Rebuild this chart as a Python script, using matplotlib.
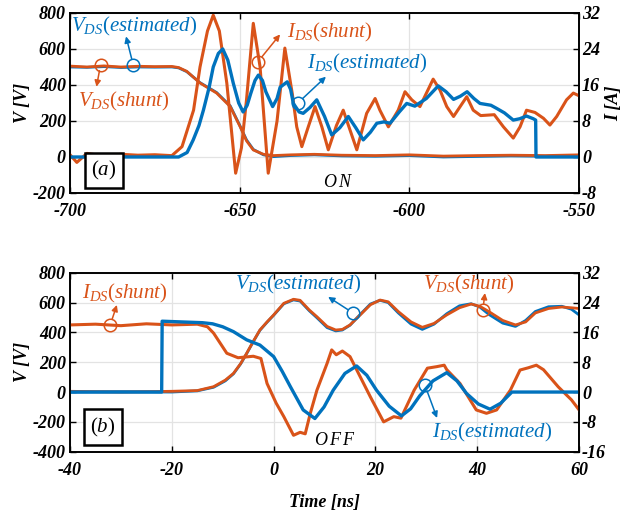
import matplotlib
matplotlib.use("Agg")
import matplotlib.pyplot as plt
from matplotlib.font_manager import FontProperties

plt.rcParams['font.family'] = ['Liberation Serif', 'DejaVu Serif']
plt.rcParams['mathtext.fontset'] = 'custom'
plt.rcParams['mathtext.it'] = 'Liberation Serif:italic'
plt.rcParams['mathtext.rm'] = 'Liberation Serif'
plt.rcParams['mathtext.bf'] = 'Liberation Serif:bold'

BLUE = '#0072BD'
ORANGE = '#D95319'

# ---------------- (a) turn-ON data ----------------
on_vsh_t = [-700, -695, -690, -685, -680, -675, -670, -668, -665.6, -661.7, -656.8, -652.8,
            -649.9, -648, -646, -643, -640, -635, -628, -620, -610, -600, -590, -580,
            -570, -560, -550]
on_vsh_v = [505, 500, 506, 500, 504, 502, 503, 497, 476, 411, 355, 280,
            169, 90, 39, 15, 8, 12, 15, 10, 8, 12, 5, 8, 10, 8, 12]

on_vest_t = [-700, -695, -690, -685, -680, -675, -670, -668, -665.6, -661.7, -656.8, -652.8,
             -649.9, -648, -646, -643, -640, -635, -628, -620, -610, -600, -590, -580,
             -570, -560, -550]
on_vest_v = [500, 498, 502, 497, 500, 499, 500, 495, 474, 413, 358, 284,
             172, 95, 42, 12, 2, 8, 12, 6, 4, 8, 0, 3, 6, 4, 8]

on_ish_t = [-700, -698, -695, -690, -685, -680, -675, -670, -667, -663.6, -661.7, -659.5,
            -657.8, -656, -653.8, -651.2, -649.5, -648, -646, -644, -641.6, -639, -636.7,
            -634.5, -633.2, -631.7, -629.8, -627.8, -625.8, -623.9, -621.5, -619.5, -617.5,
            -615.5, -612.6, -610.1, -608.7, -606.2, -603.3, -601.3, -599.3, -596.9, -593,
            -591, -589, -587, -583.1, -581.2, -579, -575, -572.3, -569.4, -567.4, -565.5,
            -563, -560.5, -558.6, -556.6, -553.7, -551.7, -550]
on_ish_a = [0.5, -1.2, 0.8, 0.2, 0.6, 0.4, 0.5, 0.3, 2.3, 10.4, 20, 28,
            31.5, 28, 16.4, -3.6, 2, 12.7, 29.7, 20, -3.6, 8, 24.2,
            14, 6.7, 2.3, 6.7, 11.2, 6.7, 1.6, 7, 10.4, 6,
            1.6, 9.7, 13, 10.4, 6.7, 10.4, 14.5, 12.7, 11.2, 17.3,
            14.9, 11.2, 9, 13.4, 10.4, 9.2, 9.4, 6.7, 4.2, 6.7, 10.4,
            9.9, 8.6, 7.1, 9, 12.7, 14.2, 13.6]

on_iest_t = [-700, -668, -665.5, -663.7, -662, -660.7, -659, -657.8, -656.3, -655, -653.5,
             -651.9, -650.3, -649, -647.8, -646.8, -645.5, -644.5, -643.3, -642.3, -640.3,
             -639, -638.1, -636, -635, -634.2, -632.5, -631.3, -629.3, -627.3, -625, -622.9,
             -620.5, -618, -615.8, -613.6, -611.5, -609.6, -607.5, -605.7, -603, -600.8,
             -598.4, -595, -591.5, -589.2, -587, -585, -583, -581, -579.2, -576, -574.3,
             -572, -569.4, -567.5, -565.5, -563.5, -562.8, -562.7, -550]
on_iest_a = [0, 0, 1, 3.8, 7, 10.4, 15.5, 20, 23, 24, 21.5,
             16.4, 12, 10, 11.5, 14, 17, 18.2, 17, 14.5, 11.2,
             13, 15.5, 16.7, 15, 11.9, 10, 9.7, 11, 12.7, 9, 4.9,
             6.5, 9, 6.5, 3.8, 5.5, 7.5, 7.8, 7.5, 10, 11.9,
             11.3, 13, 15.8, 14.5, 12.8, 13.5, 14.5, 13, 11.9, 11.5, 10.8,
             9.8, 8.2, 8.5, 9.1, 8.5, 8.2, 0, 0]

# ---------------- (b) turn-OFF data ----------------
off_vsh_t = [-40, -30, -20, -15, -11.8, -9.5, -7.9, -6.5, -5.3, -4, -2.7, -1.3, 0, 2, 3.9,
             5.2, 7, 8.5, 10.5, 12.2, 13.5, 15, 17, 19, 20.9, 22.5, 24.5, 27, 29.2, 31.5,
             34, 36.5, 38.8, 40.5, 42.3, 45, 47.5, 49.5, 51.4, 54, 56.6, 58.5, 60]
off_vsh_v = [5, 0, 5, 10, 36, 80, 125, 190, 260, 340, 416, 470, 517, 595, 622,
             615, 550, 505, 440, 416, 420, 450, 517, 585, 617, 605, 539, 470, 434, 460,
             517, 565, 590, 575, 539, 480, 450, 470, 530, 560, 570, 565, 560]

off_vest_t = [-40, -30, -20, -15, -11.8, -9.5, -7.9, -6.5, -5.3, -4, -2.7, -1.3, 0, 2, 3.9,
              5.2, 7, 8.5, 10.5, 12.2, 13.5, 15, 17, 19, 20.9, 22.5, 24.5, 27, 29.2, 31.5,
              34, 36.5, 38.8, 40.5, 42.3, 45, 47.5, 49.5, 51.4, 54, 56.6, 58.5, 60]
off_vest_v = [0, 2, 0, 8, 32, 75, 122, 188, 258, 338, 414, 468, 515, 592, 618,
              610, 545, 498, 432, 410, 416, 448, 520, 590, 615, 600, 530, 455, 420, 455,
              525, 578, 592, 570, 520, 462, 440, 480, 540, 572, 575, 555, 517]

off_ish_t = [-40, -35, -30, -25, -20, -15, -13, -11.8, -9.2, -7, -4, -2.5, -1.3, 0.5, 2,
             3.9, 5.2, 6.2, 7.2, 8.5, 10.5, 11.4, 12.3, 13.5, 15, 17, 19, 21.6, 23.6, 25,
             27.6, 30.2, 32, 33.5, 34, 36.6, 39.8, 41.8, 43.8, 46.5, 48.4, 50, 51.6, 53,
             55.9, 58.5, 60]
off_ish_a = [18, 18.2, 17.8, 18.3, 18, 18.2, 17.5, 15.8, 10.4, 9.2, 9.6, 9.0, 2.3, -3, -6.6,
             -11.6, -10.8, -11.2, -5.7, 0.5, 7.7, 11.3, 10, 11, 9.5, 4.1, -1.3, -8, -6.6, -7,
             0.5, 6.4, 6.8, 7.2, 6.0, 2.3, -4.8, -5.7, -4.8, 0.5, 5.9, 6.5, 7.2, 6.0,
             1.4, -2.1, -4.8]

off_iest_t = [-40, -22, -21.9, -18, -14, -12, -10, -7.9, -5.3, -2.7, 0, 1.7, 3.3, 5.8, 8.1,
              9.9, 11.7, 14, 16.3, 18.3, 20.2, 22.7, 25.1, 26.9, 28.7, 31.3, 34, 36, 37.9,
              40.2, 42.5, 44.6, 46.8, 60]
off_iest_a = [0, 0, 19, 18.8, 18.6, 18.3, 17.5, 16.2, 14, 12.6, 9.5, 5.5, 1.4, -4.8, -7.1,
              -4, 0.5, 5, 7, 4.5, 0.5, -3.8, -6.4, -4.5, -1, 3, 5.2, 3, -0.4,
              -3.2, -4.6, -3, 0, 0]

fig = plt.figure(figsize=(6.32, 5.17), dpi=100)

TICKFP = FontProperties(family='Liberation Serif', style='italic', weight='bold', size=13)
LABFP = FontProperties(family='Liberation Serif', style='italic', weight='bold', size=13)
ANN = 15


def style_axes(ax, ax2, xlim, ylim, ylim2, xticks, yticks, yticks2):
    ax.set_xlim(*xlim)
    ax.set_ylim(*ylim)
    ax2.set_ylim(*ylim2)
    ax.set_xticks(xticks, [str(v) for v in xticks], fontproperties=TICKFP)
    ax.set_yticks(yticks, [str(v) for v in yticks], fontproperties=TICKFP)
    ax2.set_yticks(yticks2, [str(v) for v in yticks2], fontproperties=TICKFP)
    ax.grid(True, color='#e3e3e3', lw=0.9)
    ax.set_axisbelow(True)
    ax.tick_params(direction='in', top=True, right=False, length=4, width=1.0, pad=3)
    ax.tick_params(axis='x', pad=7.5)
    ax2.tick_params(direction='in', length=4, width=1.0, pad=2)
    for a in (ax, ax2):
        for s in a.spines.values():
            s.set_linewidth(1.2)


def circ_arrow(ax, tr, cx, cy, tx, ty, color):
    ax.plot([cx], [cy], marker='o', ms=9, mfc='none', mec=color, mew=1.1,
            transform=tr, zorder=6, clip_on=False)
    ax.annotate('', xy=(tx, ty), xytext=(cx, cy), xycoords=tr, textcoords=tr,
                arrowprops=dict(arrowstyle='-|>', color=color, lw=1.1,
                                mutation_scale=9, shrinkA=4.5, shrinkB=0), zorder=6)


# ---------------- top panel ----------------
ax = fig.add_axes([0.1108, 0.6267, 0.8055, 0.3482])
ax2 = ax.twinx()
ax.plot(on_vest_t, on_vest_v, color=BLUE, lw=2.0)
ax.plot(on_vsh_t, on_vsh_v, color=ORANGE, lw=2.0)
ax2.plot(on_ish_t, on_ish_a, color=ORANGE, lw=2.2)
ax2.plot(on_iest_t, on_iest_a, color=BLUE, lw=2.4)
style_axes(ax, ax2, (-700, -550), (-200, 800), (-8, 32),
           [-700, -650, -600, -550], [-200, 0, 200, 400, 600, 800],
           [-8, 0, 8, 16, 24, 32])
ax.set_ylabel('V [V]', fontproperties=LABFP, labelpad=1)
ax2.set_ylabel('I [A]', fontproperties=LABFP, rotation=90, labelpad=4)
tr = ax.transData
ax2.text(-699.8, 725, r'$V_{DS}(estimated)$', color=BLUE, fontsize=ANN, transform=tr,
         ha='left', va='center', zorder=7)
ax2.text(-697.6, 307, r'$V_{DS}(shunt)$', color=ORANGE, fontsize=ANN, transform=tr,
         ha='left', va='center', zorder=7)
ax2.text(-636.0, 692, r'$I_{DS}(shunt)$', color=ORANGE, fontsize=ANN, transform=tr,
         ha='left', va='center', zorder=7)
ax2.text(-630.2, 519, r'$I_{DS}(estimated)$', color=BLUE, fontsize=ANN, transform=tr,
         ha='left', va='center', zorder=7)
circ_arrow(ax2, tr, -681.4, 513, -683.5, 670, BLUE)
circ_arrow(ax2, tr, -691.0, 513, -692.2, 390, ORANGE)
circ_arrow(ax2, tr, -644.6, 530, -638.1, 681, ORANGE)
circ_arrow(ax2, tr, -632.8, 301, -624.6, 446, BLUE)
ax2.text(-690, -75, r'$(a)$', fontsize=15, transform=tr, ha='center', va='center', zorder=7,
         bbox=dict(boxstyle='square,pad=0.3', fc='white', ec='black', lw=1.8))
ax2.text(-621, -140, r'$O\,N$', fontsize=13, transform=tr, ha='center', va='center', zorder=7)

# ---------------- bottom panel ----------------
bx = fig.add_axes([0.1108, 0.1263, 0.8055, 0.3462])
bx2 = bx.twinx()
bx.plot(off_vest_t, off_vest_v, color=BLUE, lw=2.0)
bx.plot(off_vsh_t, off_vsh_v, color=ORANGE, lw=2.0)
bx2.plot(off_ish_t, off_ish_a, color=ORANGE, lw=2.2)
bx2.plot(off_iest_t, off_iest_a, color=BLUE, lw=2.4)
style_axes(bx, bx2, (-40, 60), (-400, 800), (-16, 32),
           [-40, -20, 0, 20, 40, 60], [-400, -200, 0, 200, 400, 600, 800],
           [-16, -8, 0, 8, 16, 24, 32])
bx.set_ylabel('V [V]', fontproperties=LABFP, labelpad=1)
bx.set_xlabel('Time [ns]', fontproperties=LABFP, labelpad=11)
tr = bx.transData
bx2.text(-37.6, 664, r'$I_{DS}(shunt)$', color=ORANGE, fontsize=ANN, transform=tr,
         ha='left', va='center', zorder=7)
bx2.text(-7.6, 718, r'$V_{DS}(estimated)$', color=BLUE, fontsize=ANN, transform=tr,
         ha='left', va='center', zorder=7)
bx2.text(29.4, 718, r'$V_{DS}(shunt)$', color=ORANGE, fontsize=ANN, transform=tr,
         ha='left', va='center', zorder=7)
bx2.text(31.1, -268, r'$I_{DS}(estimated)$', color=BLUE, fontsize=ANN, transform=tr,
         ha='left', va='center', zorder=7)
circ_arrow(bx2, tr, -32.1, 450, -30.8, 584, ORANGE)
circ_arrow(bx2, tr, 15.6, 530, 10.7, 638, BLUE)
circ_arrow(bx2, tr, 41.1, 550, 41.5, 664, ORANGE)
circ_arrow(bx2, tr, 29.7, 47, 32.1, -174, BLUE)
bx2.text(-33.5, -235, r'$(b)$', fontsize=15, transform=tr, ha='center', va='center', zorder=7,
         bbox=dict(boxstyle='square,pad=0.3', fc='white', ec='black', lw=1.8))
bx2.text(11.9, -322, r'$O\,F\,F$', fontsize=13, transform=tr, ha='center', va='center', zorder=7)

fig.savefig('out.png', dpi=100)
